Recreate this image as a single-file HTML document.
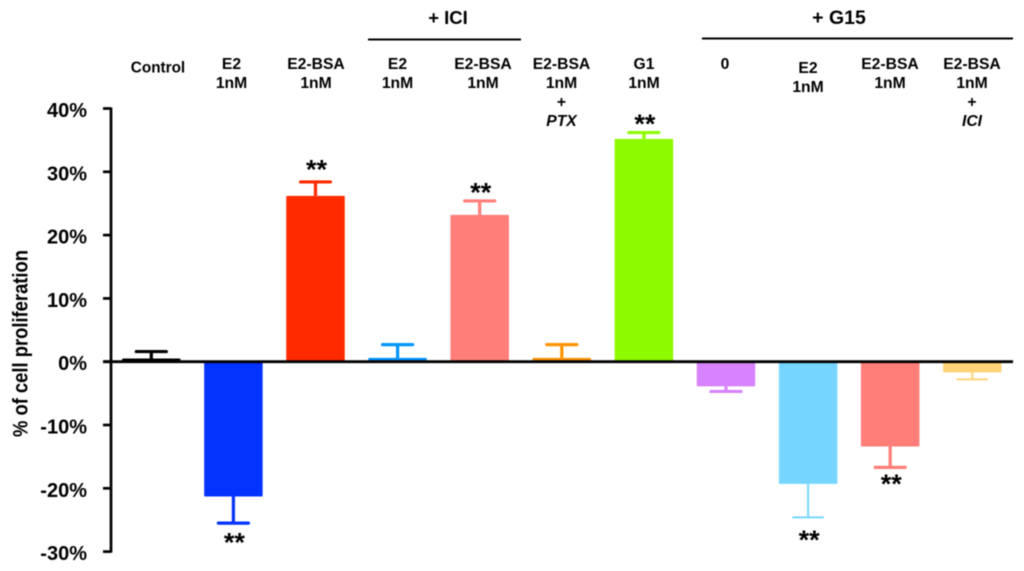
<!DOCTYPE html>
<html lang="en">
<head>
<meta charset="utf-8">
<title>Cell proliferation chart</title>
<style>
html,body{margin:0;padding:0;background:#fff;width:1024px;height:571px;overflow:hidden}
svg{display:block;filter:blur(.55px)}
text{font-family:"Liberation Sans",Arial,sans-serif;font-weight:bold;fill:#000}
.cat{font-size:15.7px;text-anchor:middle}
.tick{font-size:20px;text-anchor:end}
.grp{text-anchor:middle;font-size:18.5px}
</style>
</head>
<body>
<svg id="chart" width="1024" height="571" viewBox="0 0 1024 571" xmlns="http://www.w3.org/2000/svg">
  <g id="bars"></g>
  <g id="axis"></g>
  <g id="stars"></g>

  <text transform="translate(27.5,437) rotate(-90)" textLength="187" lengthAdjust="spacingAndGlyphs" style="font-size:21px">% of cell proliferation</text>

  <text class="grp" x="448" y="24">+ ICI</text>
  <line x1="368" x2="521" y1="39.5" y2="39.5" stroke="#000" stroke-width="2"/>
  <text class="grp" x="839" y="24" style="font-size:19.5px">+ G15</text>
  <line x1="702" x2="1013" y1="38.5" y2="38.5" stroke="#000" stroke-width="2"/>

  <text class="cat" x="158" y="72.5" style="font-size:15.3px">Control</text>
  <text class="cat" x="231.5"><tspan x="231.5" y="69">E2</tspan><tspan x="231.5" y="88">1nM</tspan></text>
  <text class="cat" x="316"><tspan x="316" y="69">E2-BSA</tspan><tspan x="316" y="88">1nM</tspan></text>
  <text class="cat" x="397.5"><tspan x="397.5" y="69">E2</tspan><tspan x="397.5" y="88">1nM</tspan></text>
  <text class="cat" x="483"><tspan x="483" y="69">E2-BSA</tspan><tspan x="483" y="88">1nM</tspan></text>
  <text class="cat" x="561.5"><tspan x="561.5" y="69">E2-BSA</tspan><tspan x="561.5" y="88">1nM</tspan><tspan x="561.5" y="107">+</tspan><tspan x="561.5" y="126" font-style="italic">PTX</tspan></text>
  <text class="cat" x="644"><tspan x="644" y="69">G1</tspan><tspan x="644" y="88">1nM</tspan></text>
  <text class="cat" x="725" y="69">0</text>
  <text class="cat" x="808"><tspan x="808" y="73">E2</tspan><tspan x="808" y="92">1nM</tspan></text>
  <text class="cat" x="890"><tspan x="890" y="69">E2-BSA</tspan><tspan x="890" y="88">1nM</tspan></text>
  <text class="cat" x="972"><tspan x="972" y="69">E2-BSA</tspan><tspan x="972" y="88">1nM</tspan><tspan x="972" y="107">+</tspan><tspan x="972" y="126" font-style="italic">ICI</tspan></text>
</svg>
<script>
var categories = ["control","e2","e2-bsa","ici-e2","ici-e2-bsa","e2-bsa-ptx","g1","g15-zero","g15-e2","g15-e2-bsa","g15-e2-bsa-ici"];
var values = [0.5,-21.3,26.2,0.6,23.2,0.6,35.2,-3.9,-19.3,-13.4,-1.7];
var errorTips = [1.6,-25.5,28.4,2.7,25.4,2.7,36.2,-4.7,-24.6,-16.7,-2.8];
var starLevels = [null,-28.0,30.9,null,27.3,null,38.1,null,-27.6,-18.8,null];
var barColors = ["#000000","#0433ff","#ff2a00","#0096ff","#ff7e79","#ff9300","#8efa00","#d783ff","#76d6ff","#ff7e79","#ffd479"];
var tickValues = [40,30,20,10,0,-10,-20,-30];

var NS = "http://www.w3.org/2000/svg";
function yScale(v){ return 361.7 - v * 6.33; }
function xScale(i){ return 151.3 + i * 82.1; }
function make(tag, attrs, parent){
  var el = document.createElementNS(NS, tag);
  for (var k in attrs) el.setAttribute(k, attrs[k]);
  parent.appendChild(el);
  return el;
}
var barsG = document.getElementById("bars");
var axisG = document.getElementById("axis");
var starsG = document.getElementById("stars");
var BAR_W = 58.5, CAP_W = 30;

categories.forEach(function(name, i){
  var cx = xScale(i), y0 = yScale(0), y1 = yScale(values[i]), tip = yScale(errorTips[i]);
  var thin = (barColors[i] === "#76d6ff" || barColors[i] === "#ffd479");
  var sw = thin ? 2 : 3.2;
  var stem = make("line", {x1:cx, x2:cx, y1:y1, y2:tip, stroke:barColors[i], "stroke-width":sw}, barsG);
  
  
  var cap = make("line", {x1:cx-CAP_W/2, x2:cx+CAP_W/2, y1:tip, y2:tip, stroke:barColors[i], "stroke-width":sw, "stroke-linecap":"round"}, barsG);
  
  
  var bar = make("rect", {x:cx-BAR_W/2, y:Math.min(y0,y1), width:BAR_W, height:Math.abs(y1-y0), fill:barColors[i], rx:1}, barsG);
  
  
  if (starLevels[i] !== null) {
    var st = make("text", {x:cx+1, y:yScale(starLevels[i])+12.5, "text-anchor":"middle", "font-size":27}, starsG);
    st.textContent = "**";
    
    
  }
});

var spine = make("line", {x1:111, x2:111, y1:yScale(40)-1, y2:yScale(-30)+1, stroke:"#000", "stroke-width":2.7}, axisG);


var zero = make("line", {x1:103, x2:1013, y1:yScale(0), y2:yScale(0), stroke:"#000", "stroke-width":2.8}, axisG);


tickValues.forEach(function(t){
  var y = yScale(t);
  var tm = make("line", {x1:103, x2:111, y1:y, y2:y, stroke:"#000", "stroke-width":2.7}, axisG);
  
  
  var tl = make("text", {x:87, y:y+8.5, "class":"tick"}, axisG);
  tl.textContent = t + "%";
  
  
});
</script>
</body>
</html>
